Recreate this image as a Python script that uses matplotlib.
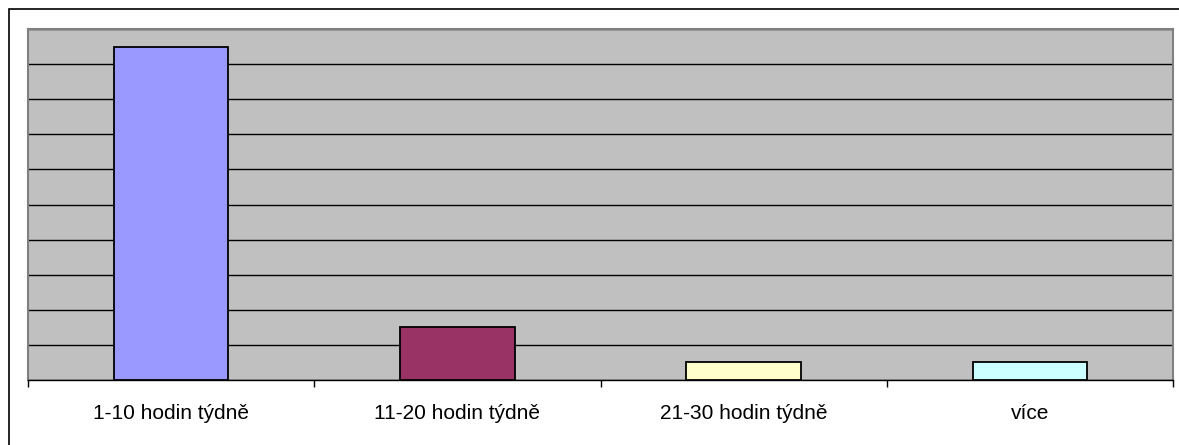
import matplotlib.pyplot as plt
from matplotlib.patches import Rectangle

categories = ['1-10 hodin týdně', '11-20 hodin týdně', '21-30 hodin týdně', 'více']
values = [19, 3, 1, 1]
colors = ['#9999FF', '#993366', '#FFFFCC', '#CCFFFF']

plt.rcParams['font.family'] = ['Liberation Sans', 'DejaVu Sans']

fig = plt.figure(figsize=(11.79, 4.45), dpi=100)
# outer chart border (clipped at right/bottom like the original)
fig.patches.append(Rectangle((9 / 1179, -0.1), 1.2, 0.1 + 1 - 9 / 445,
                             transform=fig.transFigure, fill=False,
                             edgecolor='black', linewidth=1.2))

ax = fig.add_axes([28 / 1179, 65 / 445, (1173 - 28) / 1179, (380 - 29) / 445])
ax.set_facecolor('#C0C0C0')

x = range(len(categories))
ax.bar(x, values, width=0.4, color=colors, edgecolor='black', linewidth=1.3, zorder=3)

ax.set_xlim(-0.5, len(categories) - 0.5)
ax.set_ylim(0, 20)
ax.set_yticks(range(0, 21, 2))
ax.yaxis.grid(True, color='black', linewidth=1)
ax.tick_params(axis='y', left=False, labelleft=False)

ax.set_xticks(x)
ax.set_xticklabels(categories, fontsize=15)
ax.tick_params(axis='x', length=0, pad=17)
ax.set_xticks([i - 0.5 for i in range(len(categories) + 1)], minor=True)
ax.tick_params(axis='x', which='minor', length=5, width=1, color='black')

for side in ['left', 'top', 'right']:
    ax.spines[side].set_color('#808080')
    ax.spines[side].set_linewidth(1.5)
ax.spines['bottom'].set_color('black')
ax.spines['bottom'].set_linewidth(1)

plt.savefig('out.png', dpi=100)
